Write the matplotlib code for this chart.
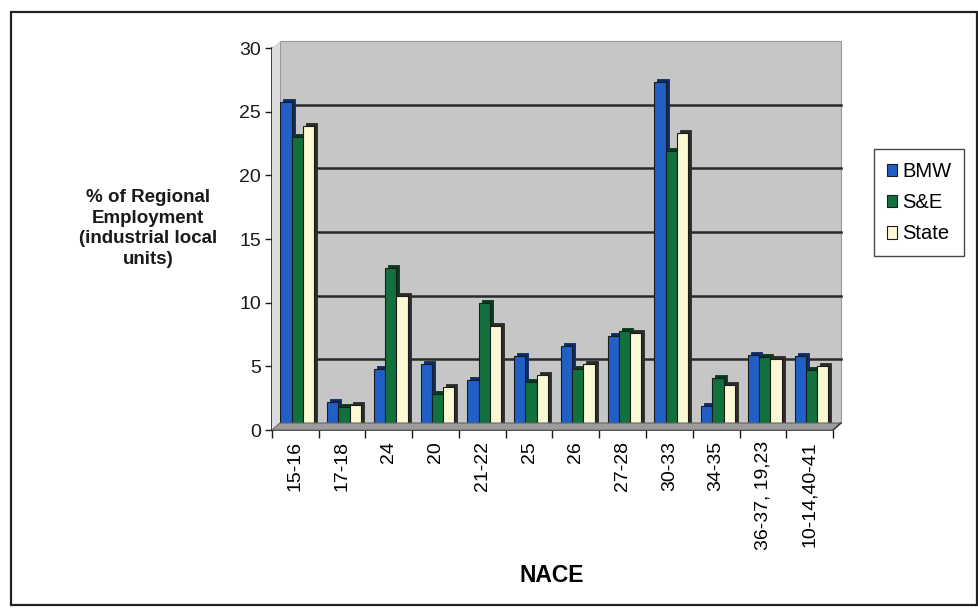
import matplotlib
matplotlib.use("Agg")
import matplotlib.pyplot as plt
import matplotlib.transforms as mtransforms
from matplotlib.patches import Rectangle, Polygon
import numpy as np

plt.rcParams['font.family'] = ['Liberation Sans', 'DejaVu Sans']

categories = ["15-16", "17-18", "24", "20", "21-22", "25", "26", "27-28",
              "30-33", "34-35", "36-37, 19,23", "10-14,40-41"]
bmw = [25.8, 2.2, 4.8, 5.2, 3.9, 5.8, 6.6, 7.4, 27.3, 1.9, 5.9, 5.8]
se = [23.0, 1.8, 12.7, 2.8, 10.0, 3.8, 4.8, 7.8, 21.9, 4.1, 5.7, 4.7]
state = [23.9, 2.0, 10.5, 3.4, 8.2, 4.3, 5.2, 7.6, 23.3, 3.5, 5.6, 5.0]
series_names = ["BMW", "S&E", "State"]
yticks = [0, 5, 10, 15, 20, 25, 30]

face_cols = ["#1f5fc6", "#12703c", "#fbf9d4"]
side_cols = ["#0c2c66", "#083a1e", "#2b2b2b"]

fig = plt.figure(figsize=(9.79, 6.16), dpi=100)
ax = fig.add_axes([0.2778, 0.3019, 0.5731, 0.6201])
ax.set_facecolor("none")
ax.set_xlim(0, len(categories))
ax.set_ylim(0, 30)

# outer chart frame
fig.patches.append(Rectangle((11 / 979, 1 - 605 / 616), 966 / 979, 593 / 616,
                             transform=fig.transFigure, fill=False,
                             edgecolor="#222222", lw=1.6))

# back wall offset gives a shallow 3-D look
dx, dy = 8 / 100, 7 / 100
wall_off = mtransforms.ScaledTranslation(dx, dy, fig.dpi_scale_trans)
ax.add_patch(Rectangle((0, 0), 1, 1, transform=ax.transAxes + wall_off,
                       facecolor="#c6c6c6", edgecolor="#9a9a9a", lw=0.8,
                       zorder=0, clip_on=False))

# floor and left side wall
fig.canvas.draw()
p00 = ax.transAxes.transform((0, 0))
p10 = ax.transAxes.transform((1, 0))
p01 = ax.transAxes.transform((0, 1))
o = np.array([dx * 100, dy * 100])
floor = Polygon([p00, p10, p10 + o, p00 + o], closed=True, transform=None,
                facecolor="#9c9c9c", edgecolor="#666666", lw=0.8, zorder=0.5)
side = Polygon([p00, p01, p01 + o, p00 + o], closed=True, transform=None,
               facecolor="#dcdcdc", edgecolor="none", zorder=0.4)
fig.patches.extend([floor, side])
fig.lines.append(plt.Line2D([p10[0], p10[0] + o[0]], [p10[1], p10[1] + o[1]],
                            transform=None, color="#333333", lw=1.0))

# gridlines on the back wall
grid_tr = mtransforms.blended_transform_factory(ax.transAxes, ax.transData) + wall_off
for v in yticks[1:-1]:
    ax.plot([0, 1], [v, v], transform=grid_tr, color="#2a2a2a", lw=1.8,
            zorder=1, clip_on=False)

# bars with a dark depth face
x = np.arange(len(categories)) + 0.5
w = 0.24
depth_off = mtransforms.ScaledTranslation(3 / 100, 3 / 100, fig.dpi_scale_trans)
handles = []
for k, vals in enumerate([bmw, se, state]):
    xs = x + (k - 1) * w + 0.04
    bars = ax.bar(xs, vals, width=w, color=face_cols[k], edgecolor="#1c1c1c",
                  lw=0.8, zorder=3 + k * 0.1, label=series_names[k])
    for b in bars:
        ax.add_patch(Rectangle(b.get_xy(), b.get_width(), b.get_height(),
                               transform=ax.transData + depth_off,
                               facecolor=side_cols[k], edgecolor=side_cols[k],
                               lw=0.6, zorder=2.5 + k * 0.1, clip_on=False))
    handles.append(bars)

# axes styling
for s in ["top", "right"]:
    ax.spines[s].set_visible(False)
ax.spines["left"].set_color("#1a1a1a")
ax.spines["left"].set_linewidth(1.2)
ax.spines["bottom"].set_color("#1a1a1a")
ax.spines["bottom"].set_linewidth(1.2)
ax.set_yticks(yticks)
ax.set_yticklabels([str(t) for t in yticks], fontsize=14)
ax.tick_params(axis="y", direction="out", length=5, width=1, colors="#1a1a1a",
               pad=3)
ax.set_xticks(x)
ax.set_xticklabels(categories, rotation=90, fontsize=14)
ax.set_xticks(np.arange(len(categories) + 1), minor=True)
ax.tick_params(axis="x", which="major", length=0, pad=8)
ax.tick_params(axis="x", which="minor", direction="out", length=6, width=1,
               colors="#1a1a1a")

ax.set_xlabel("NACE", fontsize=16.5, fontweight="bold", labelpad=0)
ax.xaxis.set_label_coords(0.499, -0.35)

fig.text(0.151, 0.629, "% of Regional\nEmployment\n(industrial local\nunits)",
         ha="center", va="center", fontsize=13.5, fontweight="bold",
         linespacing=1.3, color="#1a1a1a")

leg = ax.legend(handles=handles, labels=series_names, loc="upper left",
                bbox_to_anchor=(874 / 979, 1 - 149 / 616),
                bbox_transform=fig.transFigure,
                fontsize=14.5, frameon=True, fancybox=False, handlelength=0.5,
                handleheight=0.6, handletextpad=0.25, labelspacing=0.6,
                borderpad=0.65, borderaxespad=0)
leg.get_frame().set_edgecolor("#1a1a1a")
leg.get_frame().set_linewidth(1.0)

fig.savefig("out.png", dpi=100, facecolor="white")
